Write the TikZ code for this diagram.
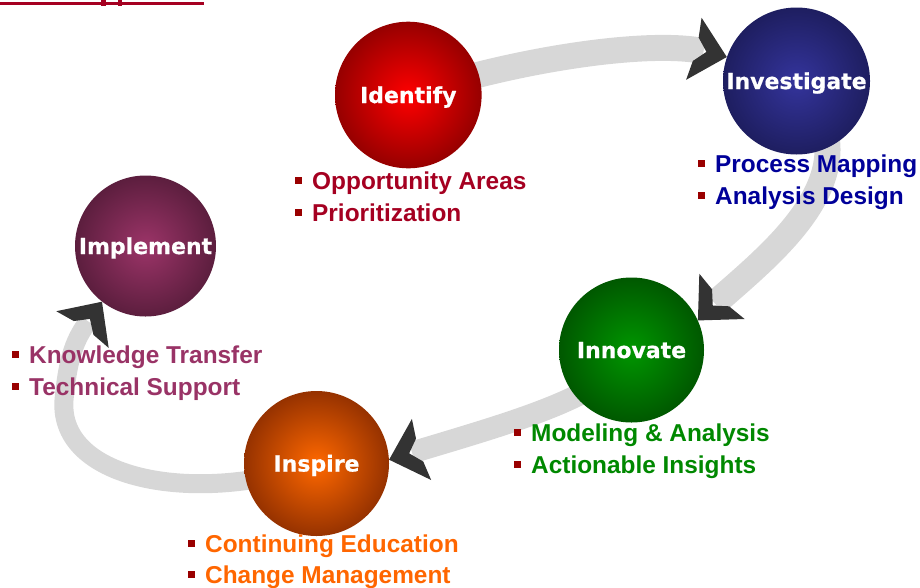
\documentclass[tikz,border=0pt]{standalone}
\usepackage{fontspec}
\setmainfont{Liberation Sans}
\newfontfamily\labelfont{DejaVu Sans}[BoldFeatures={FakeBold=0.6}]
\usetikzlibrary{calc}

\definecolor{bandgray}{RGB}{215,215,215}
\definecolor{chevcol}{RGB}{51,51,51}
\definecolor{titlered}{RGB}{165,0,33}
\definecolor{bulletred}{RGB}{153,0,0}
% sphere colours (centre / rim)
\definecolor{idIn}{RGB}{255,0,0}      \definecolor{idOut}{RGB}{150,0,0}
\definecolor{invIn}{RGB}{52,52,156}   \definecolor{invOut}{RGB}{30,30,96}
\definecolor{impIn}{RGB}{156,52,104}  \definecolor{impOut}{RGB}{92,30,62}
\definecolor{innIn}{RGB}{0,150,0}     \definecolor{innOut}{RGB}{0,88,0}
\definecolor{insIn}{RGB}{255,104,0}   \definecolor{insOut}{RGB}{150,50,0}
% list text colours
\definecolor{idText}{RGB}{165,0,33}
\definecolor{invText}{RGB}{0,0,153}
\definecolor{impText}{RGB}{153,51,102}
\definecolor{innText}{RGB}{0,136,0}
\definecolor{insText}{RGB}{255,102,0}

\pgfdeclarelayer{background}
\pgfsetlayers{background,main}

% notched chevron arrowhead: #1 = tip, #2 = pointing angle
\newcommand{\chevron}[2]{%
  \fill[chevcol, shift={(#1)}, rotate=#2]
    (0,0) -- (-34,-32) -- (-32,-12) -- (-21,0) -- (-32,12) -- (-34,32) -- cycle;}
\newcommand{\sqbullet}{\textcolor{bulletred}{\rule[5.5pt]{7pt}{7pt}}\hspace{10pt}}

\tikzset{
  stage/.style={circle, minimum size=#1, inner sep=0pt, text=white,
    font=\labelfont\bfseries\fontsize{22}{22}\selectfont,
    text height=16pt, text depth=0pt},
  band/.style={draw=bandgray, line width=#1, line cap=butt},
  item/.style={anchor=base west, inner sep=0pt,
    font=\bfseries\fontsize{24.4}{28}\selectfont},
}

\begin{document}
\begin{tikzpicture}[x=1pt, y=-1pt]
\useasboundingbox (0,0) rectangle (920,587);

% heading rule at the top edge
\fill[titlered] (0,2.2) rectangle (204,5.1);
\fill[titlered] (101,0) rectangle (105.5,5.8);
\fill[titlered] (117.5,0) rectangle (122,5.8);

% the five stages
\node[stage=146.6, inner color=idIn,  outer color=idOut]  (identify)    at (408.3,95)  {Identify};
\node[stage=147,   inner color=invIn, outer color=invOut] (investigate) at (796.5,81)  {Investigate};
\node[stage=145,   inner color=innIn, outer color=innOut] (innovate)    at (631.5,350) {Innovate};
\node[stage=145,   inner color=insIn, outer color=insOut] (inspire)     at (316.5,463.5) {Inspire};
\node[stage=141,   inner color=impIn, outer color=impOut] (implement)   at (145.5,246) {Implement};

% arrow tips on the rims and the band ends behind them
\coordinate (tipA) at (investigate.161);
\coordinate (tipB) at (innovate.24);
\coordinate (tipC) at (inspire.3);
\coordinate (tipD) at (implement.232);
\coordinate (endA) at ($(tipA)+(166:24pt)$);
\coordinate (endB) at ($(tipB)+(45:24pt)$);
\coordinate (endC) at ($(tipC)+(17.5:24pt)$);
\coordinate (endD) at ($(tipD)+(235:24pt)$);
\coordinate (loopL) at (64,400);

\begin{pgfonlayer}{background}
  \draw[band=26] (identify.center) .. controls (520,58) and (650,40) .. (endA);
  \draw[band=26] (investigate.center) .. controls (880,170) and (775,250) .. (endB);
  \draw[band=22] (innovate.center) .. controls (610,395) and (520,420) .. (endC);
  \draw[band=19] (inspire.center) .. controls (200,505) and (58,482) .. (loopL)
                 .. controls (68,355) and (76,338) .. (endD);
  \chevron{tipA}{-14}
  \chevron{tipB}{225}
  \chevron{tipC}{197.5}
  \chevron{tipD}{55}
\end{pgfonlayer}

% activity lists
\node[item, text=idText] (id1) at (295,189) {\sqbullet Opportunity Areas};
\node[item, text=idText] (id2) at (295,221) {\sqbullet Prioritization};
\node[item, text=invText] (inv1) at (698,172) {\sqbullet Process Mapping};
\node[item, text=invText] (inv2) at (698,204) {\sqbullet Analysis Design};
\node[item, text=impText] (imp1) at (12,363) {\sqbullet Knowledge Transfer};
\node[item, text=impText] (imp2) at (12,395) {\sqbullet Technical Support};
\node[item, text=innText] (inn1) at (514,441) {\sqbullet Modeling \& Analysis};
\node[item, text=innText] (inn2) at (514,473) {\sqbullet Actionable Insights};
\node[item, text=insText] (ins1) at (188,552) {\sqbullet Continuing Education};
\node[item, text=insText] (ins2) at (188,583.5) {\sqbullet Change Management};
\end{tikzpicture}
\end{document}
